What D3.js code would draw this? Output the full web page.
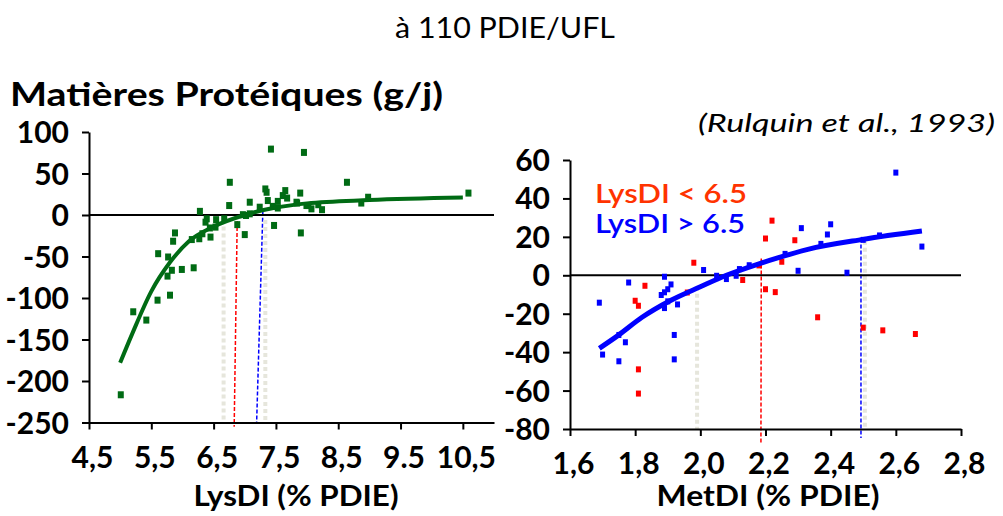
<!DOCTYPE html>
<html>
<head>
<meta charset="utf-8">
<script src="https://cdn.jsdelivr.net/npm/d3@7"></script>
<style>
  body { margin: 0; background: #fff; }
  svg text { font-family: Lato, "Open Sans", sans-serif; }
</style>
</head>
<body>
<div id="chart"></div>
<script>
// --- données ---
const lysX = [7.42, 7.95, 6.76, 7.33, 7.35, 7.65, 7.61, 7.68, 7.89, 7.08, 7.37, 7.53, 7.53, 7.45, 7.84, 8.02, 7.24, 6.75,
  6.28, 6.39, 6.37, 6.54, 6.67, 6.97, 7.02, 7.08, 6.88, 7.0, 7.47, 7.90, 6.53, 6.44, 6.45, 6.32, 6.27, 6.15, 5.88, 5.85,
  5.61, 5.77, 5.83, 5.76, 5.99, 6.18, 5.80, 5.60, 5.21, 5.42, 5.01, 8.64, 8.98, 8.87, 10.59, 7.83, 7.99, 8.07, 8.18, 8.24]
const lysY = [80, 76, 40, 32, 28, 30, 24, 21, 27, 16, 18, 17, 9, 11, 15, 12, 10, 12,
  5, -4, -8, -5, -4, 1, 0, 2, -11, -23, -12, -21, -14, -15, -26, -22, -28, -29, -21, -31,
  -46, -50, -66, -73, -65, -63, -96, -102, -116, -126, -216, 40, 22, 15, 27, 16, 12, 8, 13, 7]

const lysCurveX = [5.0, 5.2, 5.5, 5.8, 6.1, 6.5, 7.0, 7.5, 8.0, 9.0, 10.5]
const lysCurveY = [-178, -142, -92, -57, -32, -14, 0, 9, 14, 18, 21]

const metRedX = [1.98, 1.83, 1.80, 1.81, 1.96, 2.13, 2.18, 2.20, 2.22, 2.20, 2.23, 1.81, 1.81, 2.29, 2.25, 2.36, 2.50, 2.56, 2.66]
const metRedY = [6.8, -5.2, -13, -15.6, -8.7, -2.2, 5.4, 19.4, 28.7, -7, -8.5, -48.7, -61.3, 18.5, 7.3, -21.6, -27, -28.4, -30.3]

const metBlueX = [1.78, 1.69, 1.89, 1.91, 1.90, 1.88, 1.89, 1.93, 1.90, 2.01, 2.05, 2.08, 2.12, 2.15, 2.11, 1.70, 1.75, 1.77,
  1.75, 1.92, 1.92, 1.89, 2.60, 2.40, 2.39, 2.31, 2.37, 2.26, 2.30, 2.45, 2.50, 2.55, 2.68]
const metBlueY = [-3.5, -14, -0.5, -4.5, -7, -10, -8.6, -14.9, -13.3, 3, 0, -1.7, 3.5, 5.5, 0, -41, -44.5, -34.6,
  -30.8, -30.8, -43.5, -16.8, 53.7, 26.8, 21.5, 24.8, 16.6, 11.4, 2.6, 1.6, 18.7, 21, 15.2]

const metCurveX = [1.69, 1.75, 1.82, 1.91, 2.0, 2.08, 2.18, 2.24, 2.33, 2.5, 2.68]
const metCurveY = [-38, -31, -22, -13, -6, 0, 6, 9.2, 13.5, 18.7, 23]

const lysTicksX = [4.5, 5.5, 6.5, 7.5, 8.5, 9.5, 10.5]
const lysTickLabels = ['4,5', '5,5', '6,5', '7,5', '8,5', '9.5', '10,5']
const lysTicksY = [100, 50, 0, -50, -100, -150, -200, -250]
const metTicksX = [1.6, 1.8, 2.0, 2.2, 2.4, 2.6, 2.8]
const metTickLabels = ['1,6', '1,8', '2,0', '2,2', '2,4', '2,6', '2,8']
const metTicksY = [60, 40, 20, 0, -20, -40, -60, -80]

// lignes de repère [x haut, y haut, x bas, y bas]
const lysGuides = [
  {kind: 'grey', pts: [6.66, -14, 6.66, -250]},
  {kind: 'red', pts: [6.88, 0, 6.83, -255]},
  {kind: 'blue', pts: [7.29, 4, 7.19, -251]},
  {kind: 'grey', pts: [7.33, -6, 7.33, -250]}
]
const metGuides = [
  {kind: 'grey', pts: [1.99, -6, 1.99, -80]},
  {kind: 'red', pts: [2.187, 8.8, 2.186, -88]},
  {kind: 'blue', pts: [2.493, 19.2, 2.493, -84.7]},
  {kind: 'grey', pts: [2.505, 18, 2.505, -80]}
]

const W = 1003, H = 516
const svg = d3.select('#chart').append('svg')
  .attr('width', W).attr('height', H)

const guideStyle = {
  grey: {stroke: '#e6e6dc', width: 4, dash: '4 3'},
  red: {stroke: '#ff0000', width: 1.5, dash: '4 2'},
  blue: {stroke: '#0000ff', width: 1.5, dash: '4 2'}
}

// textes
svg.append('text').attr('x', 505).attr('y', 38).attr('text-anchor', 'middle')
  .attr('font-size', 28).attr('textLength', 220).attr('lengthAdjust', 'spacingAndGlyphs')
  .text('à 110 PDIE/UFL')
svg.append('text').attr('x', 10).attr('y', 106).attr('font-size', 33).attr('font-weight', 700)
  .attr('textLength', 433).attr('lengthAdjust', 'spacingAndGlyphs')
  .text('Matières Protéiques (g/j)')
svg.append('text').attr('x', 698).attr('y', 132).attr('font-size', 26).attr('font-style', 'italic')
  .attr('textLength', 297).attr('lengthAdjust', 'spacingAndGlyphs')
  .text('(Rulquin et al., 1993)')

const drawPanel = (p) => {
  const x = d3.scaleLinear().domain(p.xDomain).range(p.xRange)
  const y = d3.scaleLinear().domain(p.yDomain).range(p.yRange)
  const g = svg.append('g')

  // repères verticaux
  p.guides.forEach(gd => {
    const s = guideStyle[gd.kind]
    g.append('line')
      .attr('x1', x(gd.pts[0])).attr('y1', y(gd.pts[1]))
      .attr('x2', x(gd.pts[2])).attr('y2', y(gd.pts[3]))
      .attr('stroke', s.stroke).attr('stroke-width', s.width).attr('stroke-dasharray', s.dash)
  })

  const xAxis = d3.axisBottom(x).tickValues(p.xTicks).tickSize(7).tickSizeOuter(0)
    .tickFormat((d, i) => p.xLabels[i])
  const yAxis = d3.axisLeft(y).tickValues(p.yTicks).tickSize(7).tickSizeOuter(0)
    .tickFormat(d => String(d))

  const xg = g.append('g').attr('transform', `translate(0, ${p.yRange[0]})`).call(xAxis)
  const yg = g.append('g').attr('transform', `translate(${p.xRange[0]}, 0)`).call(yAxis)
  ;[xg, yg].forEach(a => {
    a.select('.domain').attr('stroke', '#000').attr('stroke-width', 2)
    a.selectAll('.tick line').attr('stroke', '#000').attr('stroke-width', 2)
    a.selectAll('.tick text').attr('fill', '#000').attr('font-size', 30).attr('font-weight', 700)
      .style('font-family', 'Lato, sans-serif')
  })
  xg.selectAll('.tick text').attr('dy', '0.71em').attr('y', 24).attr('dx', 3)
  yg.selectAll('.tick text').attr('x', -20).attr('dy', '0.35em')

  // ligne zéro
  g.append('line').attr('x1', p.xRange[0]).attr('x2', p.xRange[1])
    .attr('y1', y(0)).attr('y2', y(0)).attr('stroke', '#000').attr('stroke-width', 2)

  // points
  p.series.forEach(s => {
    g.append('g').selectAll('rect')
      .data(s.xs.map((v, i) => [v, s.ys[i]]))
      .enter().append('rect')
        .attr('x', d => x(d[0]) - p.size / 2)
        .attr('y', d => y(d[1]) - p.size / 2)
        .attr('width', p.size).attr('height', p.size + 1)
        .attr('fill', s.color)
  })

  // courbe d'ajustement
  const line = d3.line().x(d => x(d[0])).y(d => y(d[1])).curve(d3.curveMonotoneX)
  g.append('path')
    .datum(p.curveX.map((v, i) => [v, p.curveY[i]]))
    .attr('fill', 'none').attr('stroke', p.curveColor).attr('stroke-width', p.curveWidth)
    .attr('d', line)

  g.append('text').attr('x', p.titleX).attr('y', 506).attr('text-anchor', 'middle')
    .attr('font-size', 28).attr('font-weight', 700)
    .attr('textLength', p.titleW).attr('lengthAdjust', 'spacingAndGlyphs')
    .text(p.title)
  return {x, y, g}
}

drawPanel({
  xDomain: [4.5, 11], xRange: [89, 494],
  yDomain: [-250, 100], yRange: [422.5, 132],
  xTicks: lysTicksX, xLabels: lysTickLabels, yTicks: lysTicksY,
  guides: lysGuides,
  series: [{xs: lysX, ys: lysY, color: '#006b14'}],
  size: 6,
  curveX: lysCurveX, curveY: lysCurveY, curveColor: '#006b14', curveWidth: 4,
  title: 'LysDI (% PDIE)', titleX: 296, titleW: 205
})

const met = drawPanel({
  xDomain: [1.6, 2.8], xRange: [570, 961],
  yDomain: [-80, 60], yRange: [429, 160],
  xTicks: metTicksX, xLabels: metTickLabels, yTicks: metTicksY,
  guides: metGuides,
  series: [{xs: metRedX, ys: metRedY, color: '#ff0000'}, {xs: metBlueX, ys: metBlueY, color: '#0000ff'}],
  size: 5,
  curveX: metCurveX, curveY: metCurveY, curveColor: '#0000ff', curveWidth: 5,
  title: 'MetDI (% PDIE)', titleX: 768, titleW: 223
})

// légende
met.g.append('text').attr('x', 595).attr('y', 203).attr('font-size', 27).attr('font-weight', 600)
  .attr('fill', '#ff3300')
  .attr('textLength', 152).attr('lengthAdjust', 'spacingAndGlyphs').text('LysDI < 6.5')
met.g.append('text').attr('x', 595).attr('y', 233).attr('font-size', 27).attr('font-weight', 600)
  .attr('fill', '#0000ff')
  .attr('textLength', 150).attr('lengthAdjust', 'spacingAndGlyphs').text('LysDI > 6.5')
</script>
</body>
</html>
